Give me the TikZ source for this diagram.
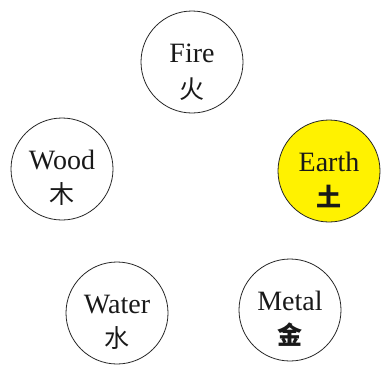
\documentclass[tikz,border=0pt]{standalone}
\usepackage{fontspec}
\setmainfont{Liberation Serif}
\newfontfamily\cjk{Noto Sans CJK SC}
\usetikzlibrary{positioning}

\begin{document}
\begin{tikzpicture}[x=1pt,y=-1pt,
  phase/.style={draw=black!85,line width=0.8pt,circle,minimum size=102pt,inner sep=0pt},
  word/.style={anchor=base,inner sep=0pt,text=black!90,font=\fontsize{28}{30}\selectfont},
  han/.style={inner sep=0pt,text=black!90,font=\fontsize{25}{28}\cjk}
]
\useasboundingbox (0,0) rectangle (382,367);
\node[phase] (fire) at (192,62) {};
\node[phase] (wood) at (62,169) {};
\node[phase,fill=yellow] (earth) at (329,171) {};
\node[phase] (water) at (117,313) {};
\node[phase] (metal) at (290,310) {};
\node[word] (fireword) at (fire.center) {Fire};
\node[word] (woodword) at (wood.center) {Wood};
\node[word] (earthword) at (earth.center) {Earth};
\node[word] (waterword) at (water.center) {Water};
\node[word] (metalword) at (metal.center) {Metal};
\node[han] (firehan) at ([yshift=-27pt]fire.center) {火};
\node[han] (woodhan) at ([yshift=-25pt]wood.center) {木};
\node[han] (earthhan) at ([yshift=-25pt]earth.center) {\bfseries 土};
\node[han] (waterhan) at ([yshift=-25pt]water.center) {水};
\node[han] (metalhan) at ([yshift=-25pt]metal.center) {\bfseries 金};
\end{tikzpicture}
\end{document}
